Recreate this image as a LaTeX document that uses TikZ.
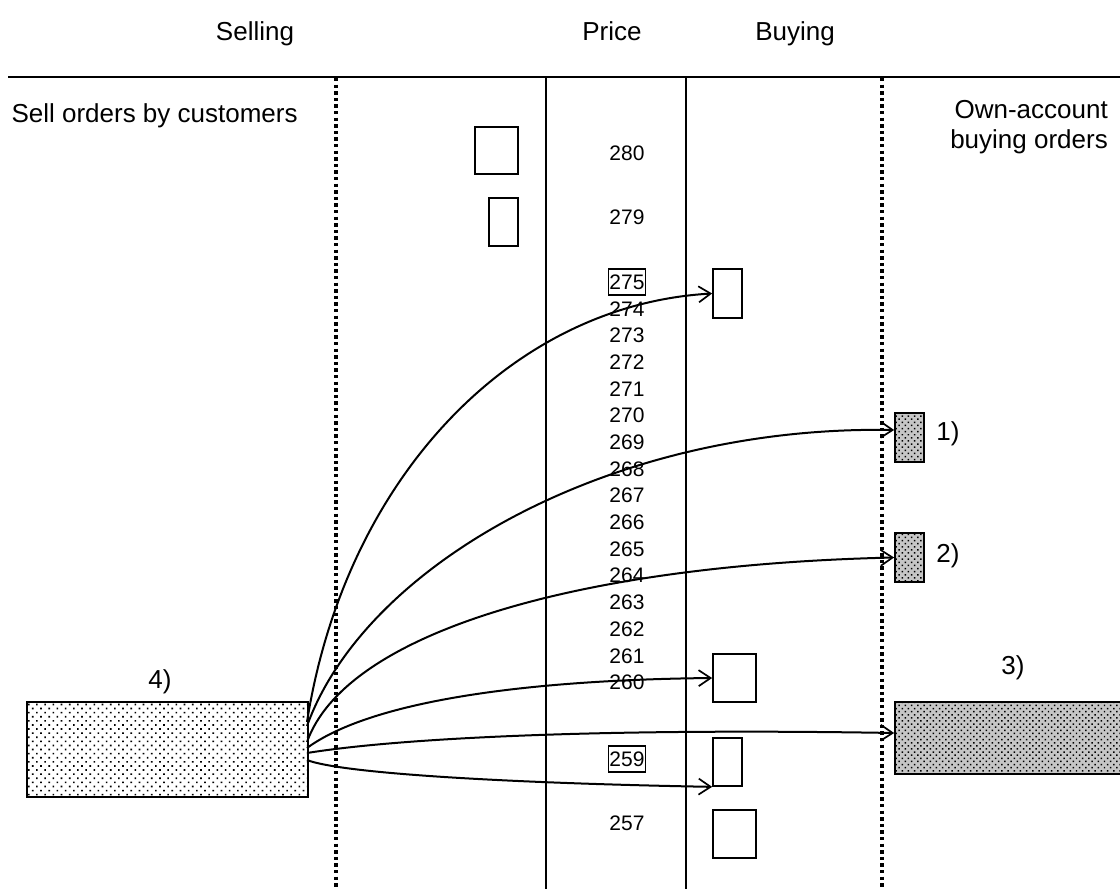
\documentclass[tikz,border=0pt]{standalone}
\usepackage{fontspec}
\setmainfont{Liberation Sans}
\usetikzlibrary{arrows.meta,patterns.meta}
\begin{document}
\begin{tikzpicture}[x=1pt,y=-1pt,
  big/.style={font=\fontsize{26}{30}\selectfont},
  num/.style={font=\fontsize{21}{24}\selectfont, inner sep=0pt},
  boxed/.style={num, draw, line width=1.6pt, inner xsep=1pt, minimum height=26pt},
  order/.style={draw, line width=1.7pt, inner sep=0pt, rectangle},
  lightdots/.style={order, preaction={fill=white}, pattern={Dots[distance=5.8pt, angle=45, radius=1.15pt]}},
  densedots/.style={order, preaction={fill=gray!45}, pattern={Dots[distance=4.4pt, angle=45, radius=1.05pt]}},
  sep/.style={line width=3.3pt, dash pattern=on 3.3pt off 3.3pt},
  col/.style={line width=1.5pt},
  flow/.style={line width=2pt, -{Straight Barb[length=12pt,width=16pt,line width=1.7pt]}}
]
\useasboundingbox (0,0) rectangle (1120,889);

% header
\node[big, anchor=base] (hsell) at (255,40) {Selling};
\node[big, anchor=base] (hprice) at (612,40) {Price};
\node[big, anchor=base] (hbuy) at (795,40) {Buying};
\coordinate (hl) at (8,77);
\coordinate (hr) at (1120,77);
\draw[col] (hl) -- (hr);

% column lines
\coordinate (d1t) at (336,78); \coordinate (d1b) at (336,889);
\coordinate (d2t) at (882,78); \coordinate (d2b) at (882,889);
\coordinate (c1t) at (546,77); \coordinate (c1b) at (546,889);
\coordinate (c2t) at (686,77); \coordinate (c2b) at (686,889);
\draw[sep] (d1t) -- (d1b);
\draw[sep] (d2t) -- (d2b);
\draw[col] (c1t) -- (c1b);
\draw[col] (c2t) -- (c2b);

% titles
\node[big, anchor=west] (tsell) at (8,116) {Sell orders by customers};
\node[big, anchor=east, align=right, inner sep=0pt] (town) at (1108,127) {Own-account\\buying orders};

% prices
\node[num] (p280) at (627,153) {280};
\node[num] (p279) at (627,217) {279};
\node[boxed] (p275) at (627,282) {275};
\foreach \v [count=\k from 1] in {274,273,272,271,270,269,268,267,266,265,264,263,262,261,260}
  \node[num] (p\v) at (627,{282+26.7*\k}) {\v};
\node[boxed] (p259) at (627,759) {259};
\node[num] (p257) at (627,823) {257};

% sell side order boxes
\node[order, minimum width=43pt, minimum height=47pt] (s280) at (496.5,150.5) {};
\node[order, minimum width=29pt, minimum height=48pt] (s279) at (503.5,222) {};

% buy side order boxes
\node[order, minimum width=29pt, minimum height=49pt] (b274) at (727.5,293.5) {};
\node[order, minimum width=43pt, minimum height=48pt] (b260) at (734.5,678) {};
\node[order, minimum width=29pt, minimum height=48pt] (b259) at (727.5,762) {};
\node[order, minimum width=43pt, minimum height=48pt] (b257) at (734.5,834) {};

% own account
\node[densedots, minimum width=29pt, minimum height=49pt] (o1) at (909.5,437.5) {};
\node[densedots, minimum width=29pt, minimum height=49pt] (o2) at (909.5,557.5) {};
\node[densedots, minimum width=226pt, minimum height=72pt] (o3) at (1008,738) {};
\node[big] (l1) at (948,434) {1)};
\node[big] (l2) at (948,556) {2)};
\node[big] (l3) at (1013,668) {3)};

% customer sell order
\node[lightdots, minimum width=281pt, minimum height=95pt] (lbox) at (167.5,749.5) {};
\node[big] (l4) at (160,682) {4)};

% arrows
\coordinate (sA) at (307,722);
\coordinate (sB) at (307,726);
\coordinate (sC) at (307,742);
\coordinate (sD) at (307,748);
\coordinate (sE) at (307,753);
\coordinate (sF) at (307,760);
\coordinate (e1) at ([yshift=7.5pt]o1.west);
\coordinate (e3) at ([yshift=5pt]o3.west);
\draw[flow] (sA) .. controls (345,480) and (510,305) .. (b274.west);
\draw[flow] (sB) .. controls (365,565) and (610,425) .. (e1);
\draw[flow] (sC) .. controls (345,635) and (570,565) .. (o2.west);
\draw[flow] (sD) .. controls (370,702) and (520,680) .. (b260.west);
\draw[flow] (sE) .. controls (400,738) and (600,728) .. (e3);
\draw[flow] (sF) .. controls (340,773) and (500,783) .. (b259.south west);
\end{tikzpicture}
\end{document}
